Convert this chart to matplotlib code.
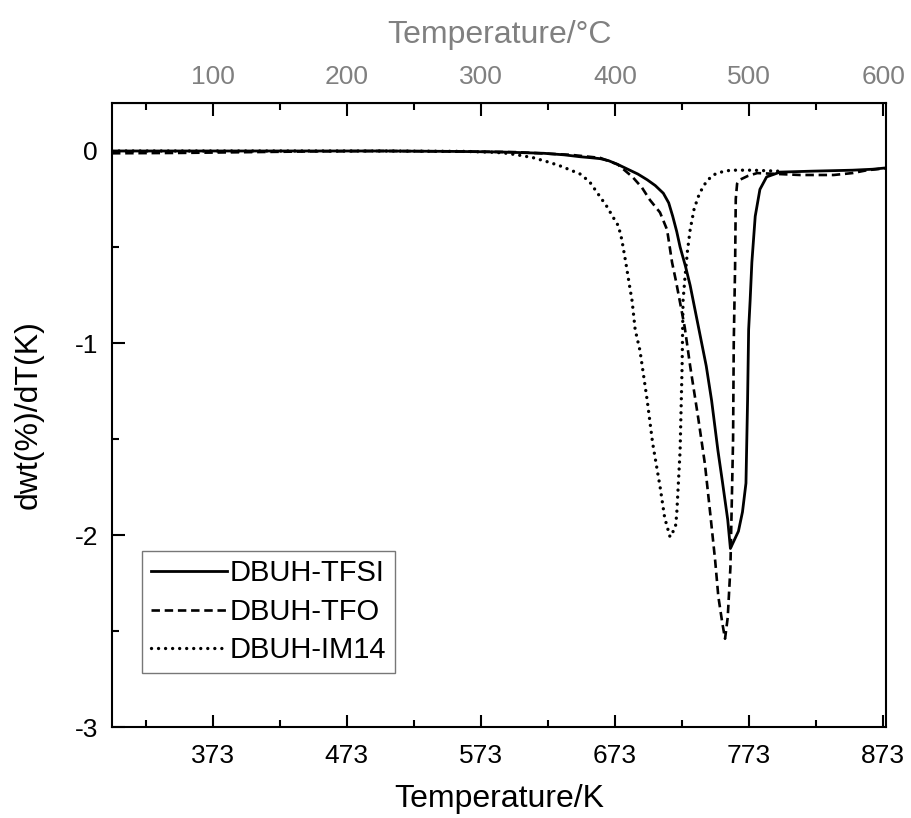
import matplotlib
matplotlib.use("Agg")
import matplotlib.pyplot as plt
from matplotlib.ticker import MultipleLocator, FixedLocator

plt.rcParams['font.family'] = ['Liberation Sans', 'DejaVu Sans']
plt.rcParams['axes.unicode_minus'] = False

# DTG curves, temperature in K and dwt/dT in %/K
t_tfsi = [298, 350, 400, 450, 500, 550, 587, 620, 635, 647, 655, 662, 668, 675, 684,
          690, 697, 703, 709, 713, 716, 719, 721.5, 725.5, 729, 733, 737, 741, 745,
          749.7, 753, 755, 757, 759, 761, 765, 768, 770.6, 771.8, 772.6, 773.7, 775,
          777.5, 781, 786, 796, 820, 850, 865, 875]
d_tfsi = [0.0, 0.0, 0.0, 0.0, 0.0, -0.002, -0.005, -0.012, -0.02, -0.03, -0.035, -0.04,
          -0.05, -0.07, -0.10, -0.12, -0.15, -0.18, -0.22, -0.27, -0.34, -0.42, -0.50,
          -0.60, -0.70, -0.84, -0.98, -1.12, -1.30, -1.56, -1.72, -1.82, -1.92, -2.07,
          -2.04, -1.98, -1.88, -1.73, -1.30, -0.93, -0.78, -0.58, -0.34, -0.20, -0.135,
          -0.11, -0.105, -0.10, -0.095, -0.088]

t_tfo = [298, 350, 400, 450, 500, 550, 600, 640, 662, 675, 686, 693, 699, 706.5, 711.8,
         715.5, 718.5, 721.5, 725, 729, 735, 740, 744, 747.6, 750, 753, 755, 757, 759,
         760, 761, 761.5, 762.5, 763, 764, 766, 772, 779, 795, 811, 836, 850, 861, 875]
d_tfo = [-0.012, -0.01, -0.006, -0.002, 0.0, -0.002, -0.006, -0.02, -0.036, -0.07,
         -0.135, -0.19, -0.255, -0.32, -0.41, -0.58, -0.68, -0.79, -0.92, -1.12, -1.39,
         -1.63, -1.89, -2.13, -2.32, -2.46, -2.54, -2.43, -2.17, -1.84, -1.50, -1.00,
         -0.60, -0.25, -0.17, -0.15, -0.13, -0.115, -0.12, -0.125, -0.125, -0.115,
         -0.10, -0.09]

t_im14 = [298, 350, 400, 450, 500, 560, 580, 590, 600, 612, 624.5, 633, 640, 647, 654,
          662, 667, 672, 675.5, 678, 681, 684, 685.7, 688, 691.6, 697, 701, 706.6, 710,
          714, 718, 719, 721.5, 723, 723.7, 725, 727, 729, 732, 736, 741, 746, 752, 759,
          775, 795]
d_im14 = [0.0, 0.0, 0.0, 0.0, 0.0, -0.002, -0.006, -0.01, -0.02, -0.035, -0.06, -0.08,
          -0.10, -0.12, -0.16, -0.24, -0.29, -0.35, -0.39, -0.46, -0.58, -0.71, -0.78,
          -0.93, -1.04, -1.30, -1.52, -1.75, -1.91, -2.01, -1.96, -1.89, -1.56, -1.12,
          -0.78, -0.67, -0.52, -0.41, -0.30, -0.22, -0.16, -0.125, -0.11, -0.10, -0.10,
          -0.105]

labels = ['DBUH-TFSI', 'DBUH-TFO', 'DBUH-IM14']
k_ticks = [373, 473, 573, 673, 773, 873]
c_ticks = [100, 200, 300, 400, 500, 600]

fig = plt.figure(figsize=(9.12, 8.18), dpi=100)
ax = fig.add_axes([0.1228, 0.1112, 0.8487, 0.7629])

ax.plot(t_tfsi, d_tfsi, color='black', lw=2.0, ls='-', label=labels[0])
ax.plot(t_tfo, d_tfo, color='black', lw=1.9, ls=(0, (3.2, 1.8)), label=labels[1])
ax.plot(t_im14, d_im14, color='black', lw=2.4, ls=(0, (0.01, 2.1)),
        dash_capstyle='round', label=labels[2])

ax.set_xlim(298, 875)
ax.set_ylim(-3, 0.25)
ax.xaxis.set_major_locator(FixedLocator(k_ticks))
ax.xaxis.set_minor_locator(FixedLocator([k - 50 for k in k_ticks]))
ax.yaxis.set_major_locator(MultipleLocator(1))
ax.yaxis.set_minor_locator(MultipleLocator(0.5))
ax.yaxis.set_major_formatter(lambda v, p: f"{v:.0f}")

for s in ax.spines.values():
    s.set_linewidth(1.5)
ax.tick_params(which='both', direction='in', width=1.5, labelsize=19,
               top=False, right=False)
ax.tick_params(which='major', length=9)
ax.tick_params(which='minor', length=5)
ax.tick_params(axis='x', which='major', pad=12)
ax.tick_params(axis='y', which='major', pad=10)

ax.set_xlabel('Temperature/K', fontsize=23, labelpad=12)
ax.set_ylabel('dwt(%)/dT(K)', fontsize=23, labelpad=22)

# Celsius scale on top
top = ax.secondary_xaxis('top', functions=(lambda k: k - 273, lambda c: c + 273))
top.xaxis.set_major_locator(FixedLocator(c_ticks))
top.xaxis.set_minor_locator(FixedLocator([c - 50 for c in c_ticks]))
top.tick_params(which='both', direction='in', width=1.5, labelsize=19,
                labelcolor='#808080')
top.tick_params(which='major', length=9, pad=10)
top.tick_params(which='minor', length=5)
top.set_xlabel('Temperature/°C', fontsize=23, color='#808080', labelpad=16)

leg = ax.legend(loc='lower left', bbox_to_anchor=(0.039, 0.0865), fontsize=21,
                frameon=True, fancybox=False, edgecolor='#555555',
                handlelength=2.6, handletextpad=0.1, borderpad=0.3,
                labelspacing=0.36, borderaxespad=0)
leg.get_frame().set_linewidth(1.0)

fig.savefig('out.png', dpi=100)
